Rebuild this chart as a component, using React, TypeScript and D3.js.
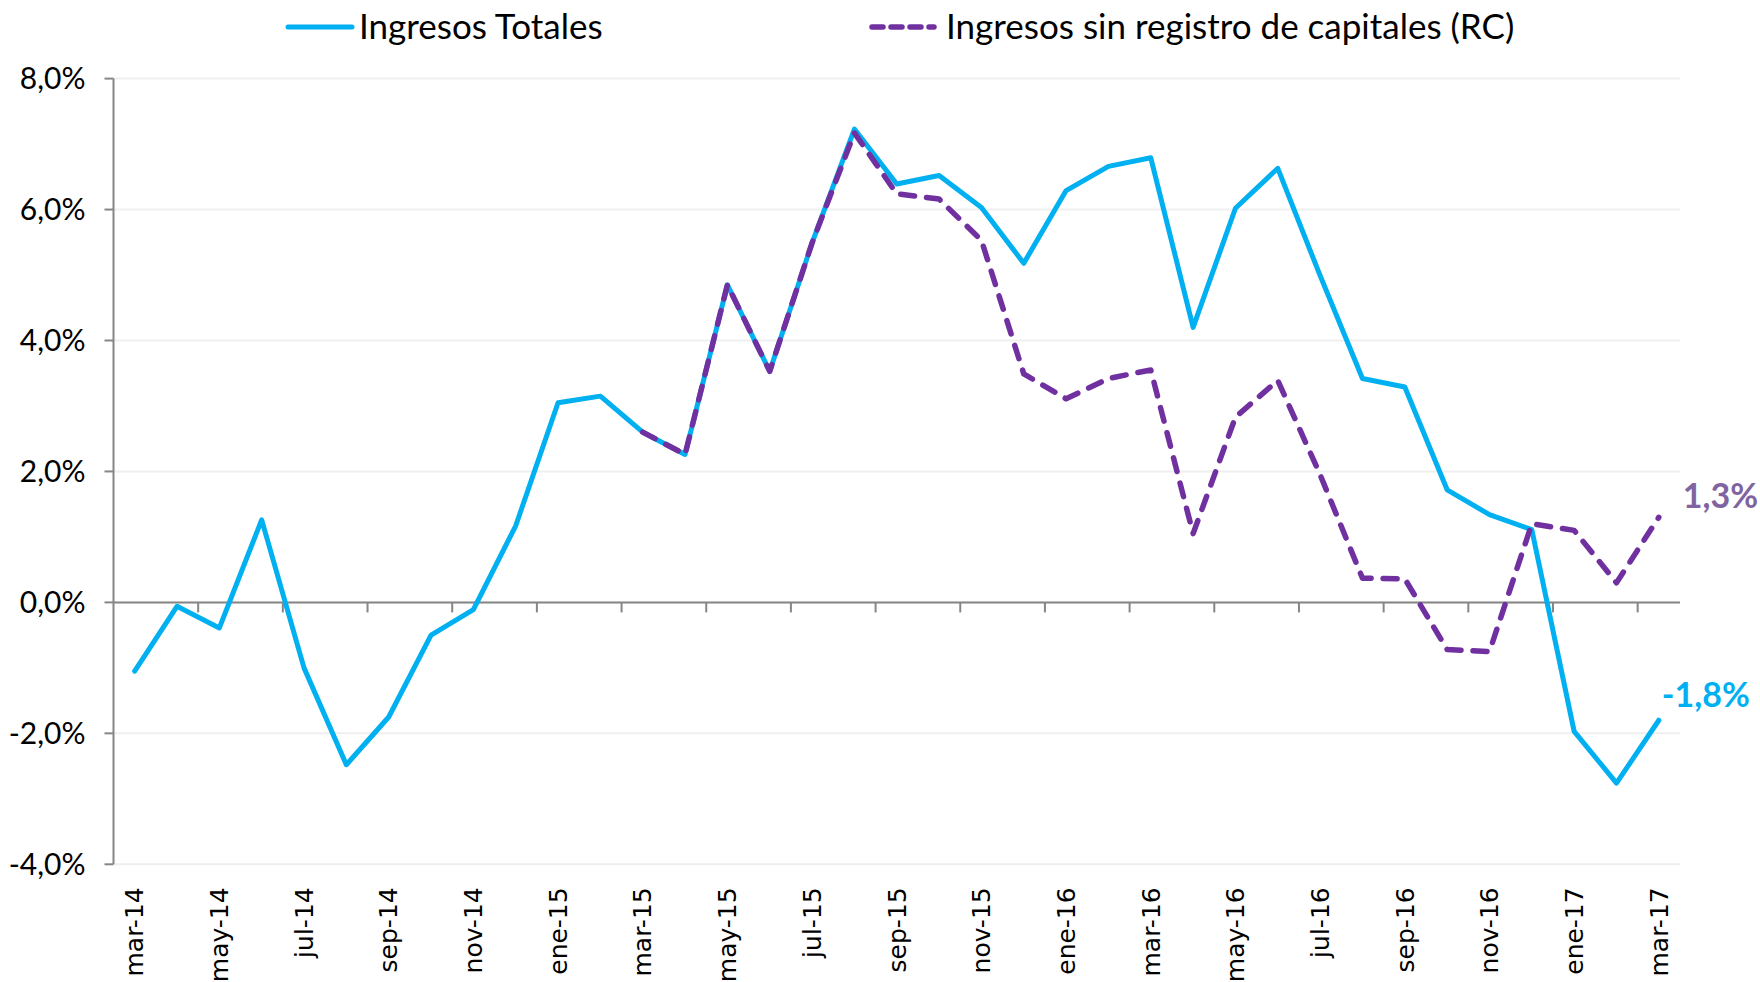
import React from 'react';
import * as d3 from 'd3';

// months on the category axis
const months = [
  'mar-14', 'abr-14', 'may-14', 'jun-14', 'jul-14', 'ago-14', 'sep-14', 'oct-14', 'nov-14', 'dic-14',
  'ene-15', 'feb-15', 'mar-15', 'abr-15', 'may-15', 'jun-15', 'jul-15', 'ago-15', 'sep-15', 'oct-15',
  'nov-15', 'dic-15', 'ene-16', 'feb-16', 'mar-16', 'abr-16', 'may-16', 'jun-16', 'jul-16', 'ago-16',
  'sep-16', 'oct-16', 'nov-16', 'dic-16', 'ene-17', 'feb-17', 'mar-17',
];

// Ingresos Totales (%)
const totales = [
  -1.05, -0.06, -0.39, 1.26, -1.0, -2.48, -1.75, -0.5, -0.11, 1.17,
  3.05, 3.15, 2.6, 2.26, 4.85, 3.53, 5.49, 7.23, 6.39, 6.52,
  6.03, 5.18, 6.29, 6.66, 6.79, 4.2, 6.02, 6.63, 4.99, 3.42,
  3.29, 1.72, 1.34, 1.11, -1.97, -2.76, -1.8,
];

// Ingresos sin registro de capitales (%), starts at mar-15
const sinRC: (number | null)[] = [
  null, null, null, null, null, null, null, null, null, null,
  null, null, 2.6, 2.26, 4.85, 3.53, 5.49, 7.17, 6.24, 6.16,
  5.53, 3.49, 3.11, 3.42, 3.55, 1.05, 2.83, 3.39, 1.95, 0.37,
  0.36, -0.72, -0.75, 1.2, 1.1, 0.3, 1.3,
];

const yTicks = [-4, -2, 0, 2, 4, 6, 8];

const BLUE = '#00B0F0';
const PURPLE = '#7030A0';
const AXIS = '#868686';
const GRID = '#EFEFEF';
const CAL = 'Lato, "Open Sans", sans-serif';

export default function App() {
  const width = 1760;
  const height = 982;
  const left = 113.5;
  const right = 1680;
  const top = 78.6;
  const bottom = 864.3;

  const x = d3.scaleBand<string>().domain(months).range([left, right]).padding(0);
  const bw = x.bandwidth();
  const cx = (m: string) => (x(m) as number) + bw / 2;
  const y = d3.scaleLinear().domain([-4, 8]).range([bottom, top]);

  const lineTot = d3.line<number>()
    .x((d, i) => cx(months[i]))
    .y(d => y(d));

  const lineRC = d3.line<number | null>()
    .defined(d => d !== null)
    .x((d, i) => cx(months[i]))
    .y(d => y(d as number));

  const fmt = (v: number) => v.toFixed(1).replace('.', ',') + '%';
  const n = months.length;
  const lastX = cx(months[n - 1]);

  return (
    <svg width={width} height={height} style={{ position: 'absolute', left: 0, top: 0, background: '#fff' }}>
      {/* gridlines */}
      {yTicks.map(t => (
        <line key={'g' + t} x1={left} x2={right} y1={y(t)} y2={y(t)} stroke={GRID} strokeWidth={2} />
      ))}

      {/* y axis */}
      <line x1={left} x2={left} y1={top} y2={bottom} stroke={AXIS} strokeWidth={2} />
      {yTicks.map(t => (
        <g key={'y' + t}>
          <line x1={left - 9} x2={left} y1={y(t)} y2={y(t)} stroke={AXIS} strokeWidth={2} />
          <text x={left - 28} y={y(t)} dy="0.35em" textAnchor="end" fontFamily={CAL} fontSize={30} fill="#000">
            {fmt(t)}
          </text>
        </g>
      ))}

      {/* x axis at zero */}
      <line x1={left} x2={right} y1={y(0)} y2={y(0)} stroke={AXIS} strokeWidth={2} />
      {months.map((m, i) =>
        i % 2 === 0 && i > 0 ? (
          <line key={'t' + m} x1={x(m)} x2={x(m)} y1={y(0)} y2={y(0) + 10} stroke={AXIS} strokeWidth={2} />
        ) : null
      )}
      {months.map((m, i) =>
        i % 2 === 0 ? (
          <text
            key={'l' + m}
            transform={`translate(${cx(m)},${bottom + 23}) rotate(-90)`}
            dy="0.35em"
            textAnchor="end"
            fontFamily='"DejaVu Sans", Verdana, sans-serif'
            fontSize={25}
            fill="#000"
          >
            {m}
          </text>
        ) : null
      )}

      {/* series */}
      <path d={lineTot(totales) || ''} fill="none" stroke={BLUE} strokeWidth={5} strokeLinejoin="round" strokeLinecap="round" />
      <path
        d={lineRC(sinRC) || ''}
        fill="none"
        stroke={PURPLE}
        strokeWidth={5.5}
        strokeDasharray="14 12"
        strokeLinejoin="round"
        strokeLinecap="round"
      />

      {/* end labels */}
      <text x={lastX + 24} y={y(sinRC[n - 1] as number) - 9} fontFamily={CAL} fontWeight="bold" fontSize={34} fill="#8064A2">
        {fmt(sinRC[n - 1] as number)}
      </text>
      <text x={lastX + 3} y={y(totales[n - 1]) - 13} fontFamily={CAL} fontWeight="bold" fontSize={34} fill={BLUE}>
        {fmt(totales[n - 1])}
      </text>

      {/* legend */}
      <line x1={288} x2={352} y1={27} y2={27} stroke={BLUE} strokeWidth={5} strokeLinecap="round" />
      <text x={359} y={39} fontFamily={CAL} fontSize={35} fill="#000">Ingresos Totales</text>
      <line x1={872} x2={934} y1={27} y2={27} stroke={PURPLE} strokeWidth={5.5} strokeLinecap="round" strokeDasharray="11 8" />
      <text x={946} y={39} fontFamily={CAL} fontSize={35} fill="#000">Ingresos sin registro de capitales (RC)</text>
    </svg>
  );
}
